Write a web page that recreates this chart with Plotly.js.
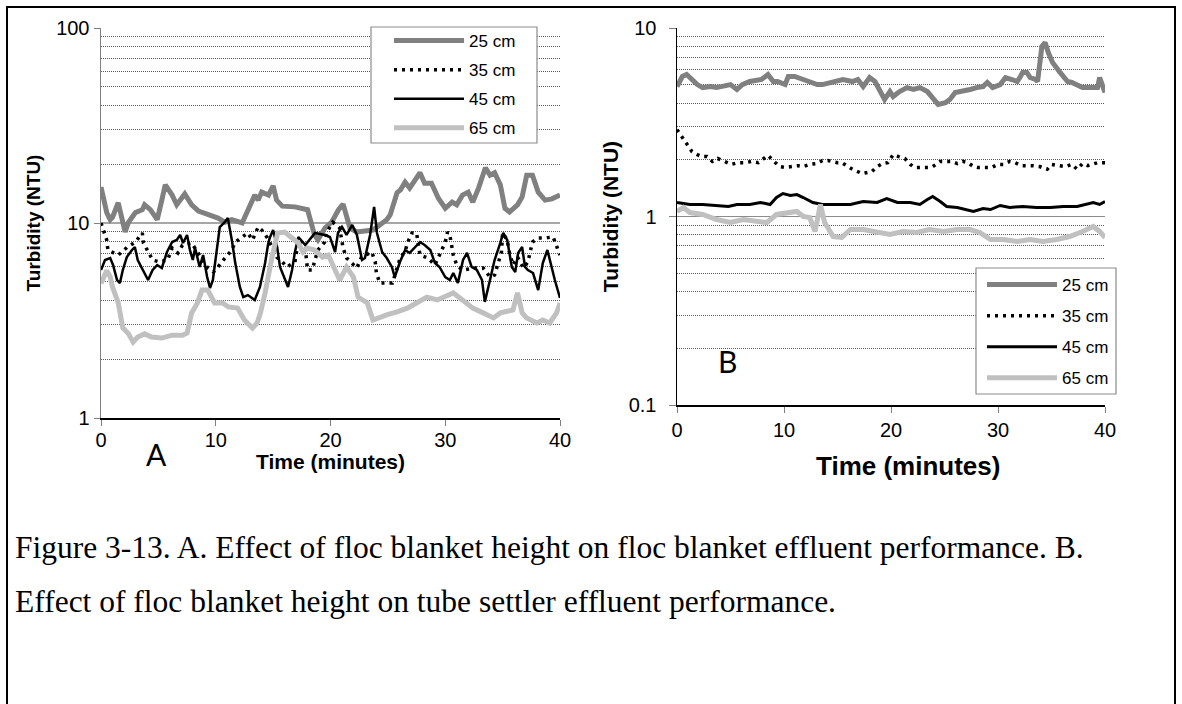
<!DOCTYPE html>
<html><head><meta charset="utf-8">
<script src="https://cdn.plot.ly/plotly-3.0.1.min.js"></script>
<style>html,body{margin:0;padding:0;background:#fff}#chart{width:1182px;height:704px}</style>
</head><body><div id="chart"></div>
<script>
const seriesNames = ['25 cm', '35 cm', '45 cm', '65 cm'];
const xTickVals = [0, 10, 20, 30, 40];
const yTickValsA = [1, 10, 100];
const yTickTextA = ['1', '10', '100'];
const yMinorA = [2,3,4,5,6,7,8,9,20,30,40,50,60,70,80,90];
const yTickValsB = [0.1, 1, 10];
const yTickTextB = ['0.1', '1', '10'];
const yMinorB = [0.2,0.3,0.4,0.5,0.6,0.7,0.8,0.9,2,3,4,5,6,7,8,9];
const xTitle = 'Time (minutes)';
const yTitle = 'Turbidity (NTU)';

// ---------- Panel A: floc blanket effluent ----------
const a25_t = [0,0.5,0.8,1.0,1.5,1.8,2.1,2.4,3.0,3.6,3.8,4.3,4.9,5.3,5.6,6.2,6.6,7.3,7.9,8.5,9.3,10.2,10.8,11.4,12.3,12.8,13.4,13.7,14.0,14.6,15.0,15.3,15.8,16.9,18.0,18.6,18.9,19.5,20.1,20.7,21.1,21.7,22.3,23.7,24.9,25.2,25.8,26.1,26.5,26.9,27.8,28.2,28.8,29.4,30.0,30.6,31.0,31.5,32.0,32.4,32.9,33.5,33.9,34.3,34.8,35.2,35.6,36.3,36.7,37.1,37.6,38.1,38.7,39.3,39.8,40];
const a25_v = [15.3,11.3,10.4,10.7,12.7,10.4,9.0,10.1,11.3,11.7,12.4,11.7,10.4,13.1,15.7,13.9,12.4,14.1,12.4,11.5,11.1,10.6,10.1,10.4,10.0,11.7,13.9,13.1,14.4,13.9,15.5,13.1,12.2,12.1,11.7,8.7,8.2,9.4,10.1,11.7,12.5,9.4,9.0,9.2,10.4,11.0,14.3,14.8,16.2,15.1,18.1,16.0,16.0,13.4,11.9,12.8,12.4,13.9,14.4,12.8,15.1,19.2,17.6,18.1,15.7,11.9,11.4,12.4,13.6,17.6,17.6,14.4,13.1,13.3,13.6,13.9];

const a35_t = [0,0.5,0.6,1.5,2.3,3.0,3.6,3.7,4.5,5.1,5.8,6.2,6.7,7.1,7.9,8.8,9.3,9.8,10.2,10.8,11.4,11.7,12.3,12.8,13.2,13.7,14.0,14.5,14.9,15.3,15.8,16.2,16.9,17.2,17.8,18.0,18.4,18.9,19.5,19.7,20.2,20.8,21.1,21.4,22.3,22.7,23.6,23.9,24.0,24.3,25.0,25.4,26.1,26.5,26.7,27.1,27.5,27.8,28.5,29.1,29.7,30.0,30.2,30.4,30.7,31.0,31.5,32.6,33.3,33.9,34.3,34.6,34.9,35.0,35.4,35.6,35.9,36.3,36.8,37.2,37.4,37.6,38.1,38.7,39.4,39.7,40];
const a35_v = [10.0,8.18,7.27,6.85,7.53,7.99,8.89,7.90,6.46,6.31,6.46,7.44,7.02,7.71,7.90,6.46,5.88,5.61,5.95,6.61,7.27,7.99,8.48,8.89,8.18,9.54,9.21,8.38,7.53,6.69,6.31,5.95,6.31,8.18,7.44,5.74,5.74,7.27,7.99,9.0,10.1,9.43,7.44,6.61,5.88,6.69,7.10,6.31,5.54,4.92,4.92,4.92,6.69,7.10,7.90,8.89,8.89,6.85,6.61,6.09,7.27,7.99,8.99,8.68,6.85,6.09,5.74,5.88,5.88,5.28,5.41,6.23,7.10,8.89,8.18,7.02,6.09,6.69,5.88,6.31,7.10,7.99,8.38,8.38,8.48,7.71,6.85];

const a45_t = [0,0.35,0.8,1.05,1.4,1.65,1.9,2.25,2.7,2.95,3.2,3.65,4.1,4.5,4.9,5.3,5.75,6.2,6.6,6.9,7.15,7.5,7.75,8.0,8.2,8.6,8.9,9.25,9.5,9.75,10.1,10.35,10.8,11.05,11.4,11.7,12.1,12.4,12.8,13.4,13.85,14.3,14.55,14.7,15.0,15.35,15.6,16.05,16.3,16.65,16.9,17.2,17.8,18.65,19.5,19.95,20.4,20.65,21.0,21.4,21.9,22.3,22.75,23.0,23.45,23.8,24.05,24.5,24.9,25.35,25.6,26.05,26.5,26.9,27.35,27.8,28.2,28.7,29.1,29.5,30.0,30.4,30.7,31.1,31.55,31.9,32.3,32.75,33.2,33.45,33.9,34.3,34.8,35.05,35.4,35.8,36.1,36.35,36.7,36.95,37.2,37.65,38.1,38.5,38.9,39.1,39.55,40];
const a45_v = [5.74,6.46,6.61,6.09,5.10,4.92,5.74,6.69,7.27,7.53,6.46,5.74,5.10,5.74,6.09,5.88,7.10,7.99,8.18,8.68,7.90,8.68,7.27,6.46,7.44,5.95,6.85,5.28,4.64,5.10,7.53,9.54,10.12,10.61,8.18,6.23,4.70,4.17,4.27,4.03,4.70,6.23,7.71,8.38,9.21,7.53,5.95,5.10,4.70,5.74,7.10,8.48,7.71,8.89,8.68,8.48,7.10,8.89,9.54,8.68,9.77,8.68,6.46,6.61,8.68,12.08,8.89,7.10,6.61,5.95,5.28,6.31,7.27,7.02,7.53,7.99,7.71,7.27,6.23,5.95,5.28,5.10,5.54,4.92,6.46,7.02,5.95,5.74,5.10,3.94,5.10,6.46,7.90,8.89,8.18,5.95,5.61,7.02,7.53,5.95,5.74,5.54,4.53,6.23,7.27,6.46,5.10,4.13];

const a65_t = [0,0.5,0.8,1.0,1.5,1.9,2.4,2.8,3.2,3.8,4.4,5.3,6.2,7.1,7.5,7.9,8.4,8.8,9.3,9.9,10.6,11.1,11.9,12.5,13.2,13.6,13.9,14.3,14.9,15.4,16.0,16.6,17.2,17.6,18.0,18.6,19.3,19.8,20.0,20.6,20.8,21.4,22.0,22.4,23.2,23.7,24.3,24.9,25.8,26.7,27.5,28.4,29.3,29.8,30.7,31.5,32.4,33.3,34.2,34.8,35.9,36.3,36.7,37.1,38.0,38.5,39.1,39.7,40];
const a65_v = [4.9,5.7,5.3,4.7,3.9,2.9,2.7,2.45,2.6,2.7,2.6,2.57,2.66,2.66,2.73,3.46,3.89,4.53,4.53,3.89,3.89,3.71,3.66,3.18,2.89,3.07,3.46,4.38,6.69,8.89,8.99,8.38,7.9,7.1,7.44,7.27,6.69,6.85,6.46,5.28,5.1,5.95,5.28,4.17,3.89,3.18,3.3,3.38,3.5,3.66,3.89,4.17,4.03,4.17,4.38,4.03,3.66,3.46,3.26,3.46,3.58,4.38,3.46,3.26,3.07,3.18,3.07,3.46,3.89];

// ---------- Panel B: tube settler effluent ----------
const b25_t = [0,0.5,0.9,1.4,1.9,2.4,3.1,3.7,4.3,5.0,5.6,6.1,6.8,7.5,7.9,8.5,9.0,9.4,10.1,10.4,11.0,11.8,12.4,13.1,13.6,14.6,15.5,16.4,16.9,17.4,18.0,18.5,19.0,19.4,19.9,20.2,20.8,21.5,22.1,22.7,23.4,23.9,24.4,25.1,25.5,26.0,26.7,27.4,28.0,28.6,29.0,29.5,30.2,30.7,31.3,31.8,32.1,32.3,32.7,33.0,33.5,33.7,34.1,34.4,34.7,35.1,35.8,36.5,36.9,37.4,37.9,38.8,39.3,39.5,39.8,40];
const b25_v = [4.89,5.53,5.67,5.33,5.01,4.83,4.89,4.83,4.89,5.01,4.72,5.01,5.20,5.33,5.33,5.67,5.20,5.20,5.01,5.53,5.53,5.33,5.14,5.01,5.01,5.20,5.33,5.20,5.33,4.89,5.46,5.20,4.55,4.18,4.60,4.33,4.60,4.83,4.72,4.83,4.60,4.28,3.93,4.02,4.18,4.55,4.60,4.72,4.83,4.89,5.14,4.83,5.01,5.46,5.33,5.20,5.53,5.81,5.81,5.46,5.33,5.20,7.98,8.38,7.41,6.56,5.81,5.20,5.14,5.01,4.83,4.83,4.83,5.46,4.83,4.55];

const b35_t = [0,0.5,0.9,1.4,1.9,2.3,2.8,3.3,3.8,4.5,5.1,5.7,6.4,7.0,7.6,8.0,8.5,9.2,9.6,10.1,10.7,11.3,11.8,12.4,13.1,13.6,14.1,15.0,15.4,16.0,16.4,17.3,18.2,18.7,19.2,19.7,20.2,20.7,21.3,21.8,22.2,22.9,23.5,23.9,24.6,25.2,25.7,26.2,26.7,27.2,27.7,28.1,28.8,29.4,30.0,30.5,31.1,31.6,32.2,32.8,33.3,33.9,34.6,35.0,35.6,36.3,36.9,37.4,37.9,38.4,39.3,40];
const b35_v = [2.89,2.63,2.47,2.21,2.13,2.08,2.08,1.96,2.03,1.96,1.89,1.93,1.93,1.96,1.93,2.01,2.11,1.93,1.84,1.82,1.84,1.86,1.84,1.89,1.91,1.98,1.98,1.93,1.93,1.84,1.78,1.69,1.73,1.84,1.91,1.93,2.13,2.08,2.03,1.89,1.82,1.82,1.82,1.84,1.96,1.96,1.96,1.91,1.96,1.93,1.84,1.82,1.82,1.82,1.89,1.89,1.96,1.93,1.86,1.86,1.86,1.84,1.78,1.89,1.86,1.84,1.89,1.78,1.91,1.86,1.93,1.93];

const b45_t = [0,1.2,2.4,3.7,4.8,5.6,6.8,7.8,8.7,9.3,9.9,10.6,11.2,11.8,12.7,13.6,15.0,16.2,17.4,18.7,19.6,20.6,21.8,22.7,23.4,23.9,24.6,25.2,26.2,27.1,27.7,28.6,29.3,30.2,31.1,32.3,33.6,34.9,36.1,37.4,38.3,38.9,39.5,40];
const b45_v = [1.187,1.158,1.158,1.144,1.130,1.158,1.158,1.187,1.158,1.261,1.324,1.292,1.308,1.261,1.187,1.158,1.158,1.158,1.201,1.187,1.246,1.187,1.187,1.158,1.231,1.277,1.201,1.130,1.116,1.089,1.063,1.103,1.089,1.144,1.116,1.130,1.116,1.116,1.130,1.130,1.158,1.187,1.158,1.201];

const b65_t = [0,0.6,1.2,2.4,3.7,5.0,6.2,7.5,8.4,9.3,10.3,11.2,11.8,12.4,12.9,13.4,13.8,14.6,15.4,16.2,17.4,18.7,19.9,21.1,22.4,23.6,24.9,26.2,27.4,28.3,29.3,30.5,31.8,33.0,34.2,35.5,36.7,37.9,38.9,39.5,40];
const b65_v = [1.063,1.116,1.050,1.025,0.964,0.929,0.964,0.941,0.929,1.025,1.050,1.063,1.0,0.988,0.833,1.158,0.929,0.783,0.774,0.853,0.853,0.822,0.803,0.833,0.822,0.853,0.833,0.853,0.853,0.822,0.755,0.755,0.737,0.755,0.737,0.755,0.783,0.833,0.885,0.833,0.774];

const captionLine1 = 'Figure 3-13. A. Effect of floc blanket height on floc blanket effluent performance. B.';
const captionLine2 = 'Effect of floc blanket height on tube settler effluent performance.';

// ---------- styling ----------
const W = 1182, H = 704;
const px = x => x / W, py = y => 1 - y / H;
const SANS = 'Liberation Sans, Arial, sans-serif';
const SERIF = 'Liberation Serif, Times New Roman, serif';
const styles = [
  {color: '#808080', width: 5, dash: 'solid'},
  {color: '#000000', width: 3.5, dash: '3px,5px'},
  {color: '#000000', width: 2.5, dash: 'solid'},
  {color: '#c0c0c0', width: 5, dash: 'solid'}
];
const dataA = [[a25_t,a25_v],[a35_t,a35_v],[a45_t,a45_v],[a65_t,a65_v]];
const dataB = [[b25_t,b25_v],[b35_t,b35_v],[b45_t,b45_v],[b65_t,b65_v]];
const traces = [];
dataA.forEach((d, i) => traces.push({x: d[0], y: d[1], type: 'scatter', mode: 'lines', name: seriesNames[i],
  line: Object.assign({}, styles[i]), xaxis: 'x', yaxis: 'y', legend: 'legend',
  legendgroup: 'a' + i, hoverinfo: 'skip'}));
dataB.forEach((d, i) => traces.push({x: d[0], y: d[1], type: 'scatter', mode: 'lines', name: seriesNames[i],
  line: Object.assign({}, styles[i], i===2 ? {width: 3} : {}), xaxis: 'x2', yaxis: 'y2', legend: 'legend2',
  legendgroup: 'b' + i, hoverinfo: 'skip'}));

const tickFont = {family: SANS, size: 20, color: '#000'};
const xCommon = {range: [0, 40], tickmode: 'array', tickvals: xTickVals, ticks: 'outside', ticklen: 6,
  tickcolor: '#808080', showline: true, linecolor: '#000', linewidth: 1.5, showgrid: false, zeroline: false,
  tickfont: tickFont};
const minorGrid = {showgrid: true, gridcolor: '#5a5a5a', gridwidth: 1, griddash: '1px,1px', ticks: ''};

const layout = {
  width: W, height: H, margin: {l: 0, r: 0, t: 0, b: 0},
  paper_bgcolor: '#fff', plot_bgcolor: 'rgba(0,0,0,0)', showlegend: true,
  font: {family: SANS, color: '#000'},
  xaxis: Object.assign({}, xCommon, {domain: [px(101), px(560)], anchor: 'y', ticklabelstandoff: -3,
    title: {text: '<b>' + xTitle + '</b>', font: {family: SANS, size: 21, color: '#000'}, standoff: 1}}),
  yaxis: {type: 'log', range: [0, 2], domain: [py(418), py(28)], anchor: 'x', tickmode: 'array',
    tickvals: yTickValsA, ticktext: yTickTextA, ticks: 'outside', ticklen: 6, tickcolor: '#808080',
    showline: true, linecolor: '#808080', linewidth: 1.5, showgrid: true, gridcolor: '#a6a6a6', gridwidth: 1.5,
    zeroline: false, tickfont: tickFont,
    minor: Object.assign({tickmode: 'array', tickvals: yMinorA}, minorGrid),
    title: {text: '<b>' + yTitle + '</b>', font: {family: SANS, size: 19, color: '#000'}, standoff: 10}},
  xaxis2: Object.assign({}, xCommon, {domain: [px(677), px(1105)], anchor: 'y2'}),
  yaxis2: {type: 'log', range: [-1, 1], domain: [py(405), py(28)], anchor: 'x2', tickmode: 'array',
    tickvals: yTickValsB, ticktext: yTickTextB, ticks: 'outside', ticklen: 7, tickcolor: '#808080',
    showline: true, linecolor: '#000', linewidth: 1.5, showgrid: true, gridcolor: '#8c8c8c', gridwidth: 1.5,
    zeroline: false, tickfont: tickFont, ticklabelstandoff: 8,
    minor: Object.assign({tickmode: 'array', tickvals: yMinorB}, minorGrid),
    title: {text: '<b>' + yTitle + '</b>', font: {family: SANS, size: 21, color: '#000'}, standoff: 4}},
  legend: {x: px(389), y: py(23), xanchor: 'left', yanchor: 'top', bgcolor: 'rgba(0,0,0,0)',
    borderwidth: 0, font: {family: SANS, size: 17, color: '#000'}, traceorder: 'grouped', tracegroupgap: 4,
    itemwidth: 70},
  legend2: {x: px(982), y: py(267), xanchor: 'left', yanchor: 'top', bgcolor: 'rgba(0,0,0,0)',
    borderwidth: 0, font: {family: SANS, size: 17, color: '#000'}, traceorder: 'grouped', tracegroupgap: 6,
    itemwidth: 70},
  shapes: [
    {type: 'rect', xref: 'paper', yref: 'paper', x0: px(7), x1: px(1175), y0: -0.05, y1: py(7),
      line: {color: '#000', width: 2}, fillcolor: 'rgba(0,0,0,0)', layer: 'below'},
    {type: 'rect', xref: 'paper', yref: 'paper', x0: px(371), x1: px(537), y0: py(143), y1: py(27),
      line: {color: '#8c8c8c', width: 1.2}, fillcolor: '#fff', layer: 'above'},
    {type: 'rect', xref: 'paper', yref: 'paper', x0: px(976), x1: px(1116), y0: py(394), y1: py(268),
      line: {color: '#8c8c8c', width: 1.2}, fillcolor: '#fff', layer: 'above'}
  ],
  annotations: [
    {text: '<b>' + xTitle + '</b>', xref: 'paper', yref: 'paper', x: px(908), y: py(466), xanchor: 'center',
      yanchor: 'middle', showarrow: false, font: {family: SANS, size: 26, color: '#000'}},
    {text: 'A', xref: 'paper', yref: 'paper', x: px(156), y: py(454), xanchor: 'center', yanchor: 'middle',
      showarrow: false, font: {family: 'Lato, Open Sans, sans-serif', size: 30, color: '#000'}},
    {text: 'B', xref: 'paper', yref: 'paper', x: px(727), y: py(361), xanchor: 'center', yanchor: 'middle',
      showarrow: false, font: {family: 'Lato, Open Sans, sans-serif', size: 30, color: '#000'}},
    {text: captionLine1, xref: 'paper', yref: 'paper', x: px(13), y: py(547), xanchor: 'left', yanchor: 'middle',
      showarrow: false, font: {family: SERIF, size: 31.5, color: '#000'}},
    {text: captionLine2, xref: 'paper', yref: 'paper', x: px(13), y: py(601), xanchor: 'left', yanchor: 'middle',
      showarrow: false, font: {family: SERIF, size: 31.5, color: '#000'}}
  ]
};
Plotly.newPlot('chart', traces, layout, {staticPlot: true});
</script></body></html>
